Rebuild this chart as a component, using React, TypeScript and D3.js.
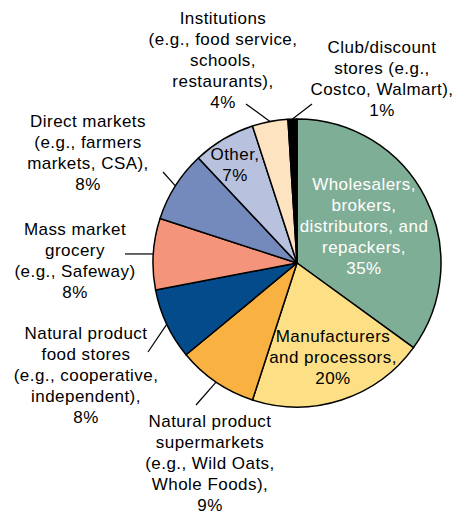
import React from "react";
import * as d3 from "d3";

const categories = [
  "Wholesalers",
  "Manufacturers",
  "NaturalSupermarkets",
  "NaturalFoodStores",
  "MassMarket",
  "DirectMarkets",
  "Other",
  "Institutions",
  "Club",
];
const values = [35, 20, 9, 8, 8, 8, 7, 4, 1];
const labelLines = [
  ["Wholesalers,", "brokers,", "distributors, and", "repackers,", "35%"],
  ["Manufacturers", "and processors,", "20%"],
  ["Natural product", "supermarkets", "(e.g., Wild Oats,", "Whole Foods),", "9%"],
  ["Natural product", "food stores", "(e.g., cooperative,", "independent),", "8%"],
  ["Mass market", "grocery", "(e.g., Safeway)", "8%"],
  ["Direct markets", "(e.g., farmers", "markets, CSA),", "8%"],
  ["Other,", "7%"],
  ["Institutions", "(e.g., food service,", "schools,", "restaurants),", "4%"],
  ["Club/discount", "stores (e.g.,", "Costco, Walmart),", "1%"],
];

const colors = ["#7fae96", "#fde086", "#f9b142", "#044b8b", "#f4957b", "#7489bc", "#b8c2de", "#fde3bf", "#000000"];

// layout: label anchor (center x, first baseline y), text color, optional leader end
const layout = [
  { x: 364, y: 190, fill: "#ffffff", leader: null },
  { x: 333, y: 342, fill: "#000", leader: null },
  { x: 210, y: 426.5, fill: "#000", leader: [196, 405] },
  { x: 86, y: 339, fill: "#000", leader: [148, 352] },
  { x: 75, y: 235, fill: "#000", leader: [125, null] },
  { x: 88, y: 127, fill: "#000", leader: [163, 172] },
  { x: 235, y: 160, fill: "#000", leader: null },
  { x: 223, y: 24, fill: "#000", leader: [246, 104] },
  { x: 382, y: 53, fill: "#000", leader: [312, 104] },
];

const W = 457;
const H = 513;
const CX = 297;
const CY = 263;
const R = 144;
const LH = 21;

export default function App() {
  const data = categories.map((c, i) => ({ c, v: values[i], i }));
  const pie = d3.pie<any>().value((d) => d.v).sort(null).startAngle(0).endAngle(2 * Math.PI);
  const arcs = pie(data);
  const arc = d3.arc<any>().innerRadius(0).outerRadius(R);

  return (
    <svg width={W} height={H} style={{ position: "absolute", left: 0, top: 0 }}
      fontFamily="'Liberation Sans', Arial, Helvetica, sans-serif" fontSize={17} letterSpacing={0.45}>
      <rect width={W} height={H} fill="#fff" />
      <g transform={`translate(${CX},${CY})`}>
        {arcs.map((a, i) => (
          <path key={i} d={arc(a) as string} fill={colors[i]} stroke="#000" strokeWidth={1.5} strokeLinejoin="round" />
        ))}
      </g>
      {arcs.map((a, i) => {
        const L = layout[i];
        if (!L.leader) return null;
        const mid = (a.startAngle + a.endAngle) / 2;
        const ix = CX + R * Math.sin(mid);
        const iy = CY - R * Math.cos(mid);
        const ox = L.leader[0];
        const oy = L.leader[1] == null ? iy : L.leader[1];
        return <line key={"l" + i} x1={ox} y1={oy} x2={ix} y2={iy} stroke="#000" strokeWidth={1.2} />;
      })}
      {labelLines.map((lines, i) => {
        const L = layout[i];
        return (
          <text key={"t" + i} textAnchor="middle" fill={L.fill}>
            {lines.map((ln, j) => (
              <tspan key={j} x={L.x} y={L.y + j * LH}>{ln}</tspan>
            ))}
          </text>
        );
      })}
    </svg>
  );
}
